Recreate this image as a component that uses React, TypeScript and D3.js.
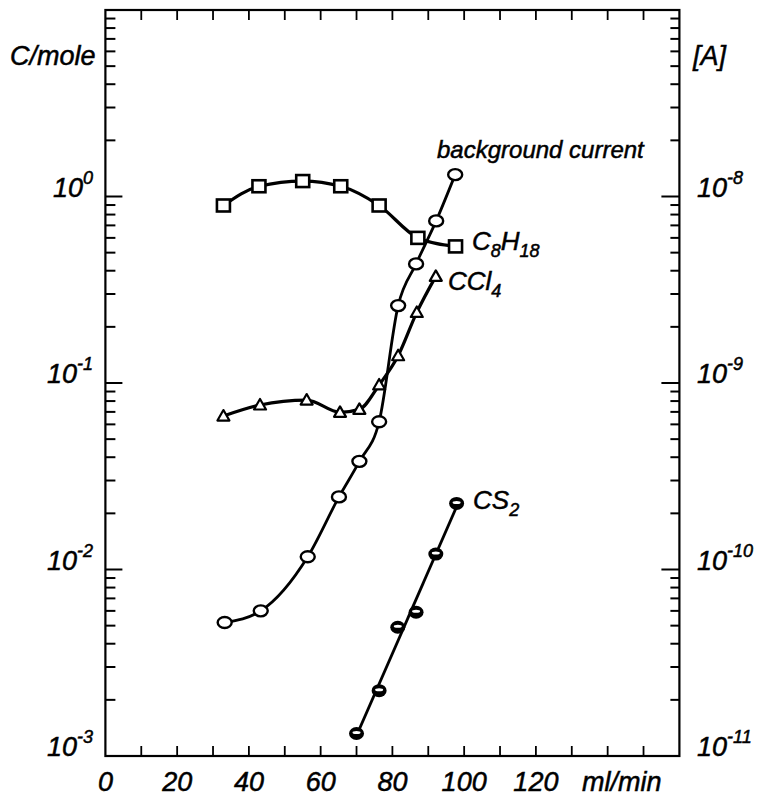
import React from "react";
import * as d3 from "d3";

// flow rate (ml/min) and response values
const bgX = [33.25, 43.3, 56.4, 65.1, 70.8, 76.3, 81.6, 86.6, 92.2, 97.5];
const bgY = [0.0052, 0.006, 0.0117, 0.0245, 0.038, 0.062, 0.26, 0.435, 0.74, 1.31];

const c8X = [32.9, 42.8, 55, 65.6, 76.3, 87.1, 97.6];
const c8Y = [0.895, 1.135, 1.21, 1.135, 0.895, 0.6, 0.54];

const cclX = [32.9, 43.1, 56.1, 65.4, 70.8, 76.3, 81.6, 86.8, 92.1];
const cclY = [0.0665, 0.0762, 0.081, 0.0696, 0.0722, 0.0976, 0.14, 0.239, 0.373];

const cs2X = [70, 76.3, 81.5, 86.6, 92.1, 97.9];
const cs2Y = [0.00132, 0.00224, 0.0049, 0.0059, 0.0121, 0.0226];

const xTickLabels = [0, 20, 40, 60, 80, 100, 120];
const leftExps = [-3, -2, -1, 0];
const rightExps = [-11, -10, -9, -8];

const W = 767;
const H = 799;
const FONT = "'Liberation Sans', Arial, sans-serif";

const App = () => {
  const x = d3.scaleLinear().domain([0, 160]).range([105.4, 679.4]);
  const y = d3.scaleLog().domain([1e-3, 10]).range([756, 10]);
  const yR = d3.scaleLog().domain([1e-11, 1e-7]).range([756, 10]);

  const zip = (xs: number[], ys: number[]) => xs.map((v, i) => [v, ys[i]] as [number, number]);
  const bg = zip(bgX, bgY);
  const c8 = zip(c8X, c8Y);
  const ccl = zip(cclX, cclY);
  const cs2 = zip(cs2X, cs2Y);

  const smooth = d3
    .line<[number, number]>()
    .x((d) => x(d[0]))
    .y((d) => y(d[1]))
    .curve(d3.curveMonotoneX);

  // CS2 is drawn as a straight fit line (log scale)
  const lx = cs2X;
  const ly = cs2Y.map((v) => Math.log10(v));
  const mx = d3.mean(lx) as number;
  const my = d3.mean(ly) as number;
  const slope =
    d3.sum(lx.map((v, i) => (v - mx) * (ly[i] - my))) / d3.sum(lx.map((v) => (v - mx) ** 2));
  const fit = (v: number) => Math.pow(10, my + slope * (v - mx));
  const x0 = cs2X[0];
  const x1 = cs2X[cs2X.length - 1];

  const xTicks = d3.range(10, 160, 10);
  const minor: { v: number; major: boolean }[] = [];
  for (let k = -3; k <= 0; k++) {
    for (let m = 1; m <= 9; m++) minor.push({ v: m * Math.pow(10, k), major: m === 1 });
  }

  const [left, right] = x.range();
  const [bottom, top] = y.range();

  return (
    <svg
      width={W}
      height={H}
      style={{ position: "absolute", left: 0, top: 0, background: "#fff" }}
      fontFamily={FONT}
      fontStyle="italic"
    >
      {/* frame */}
      <rect x={left} y={top} width={right - left} height={bottom - top} fill="none" stroke="#000" strokeWidth={2.2} />

      {/* x ticks top & bottom */}
      {xTicks.map((t) => (
        <g key={"xt" + t} stroke="#000" strokeWidth={1.8}>
          <line x1={x(t)} x2={x(t)} y1={bottom} y2={bottom - 10} />
          <line x1={x(t)} x2={x(t)} y1={top} y2={top + 10} />
        </g>
      ))}

      {/* y ticks left & right */}
      {minor.map((d, i) =>
        d.v === 1e-3 ? null : (
          <g key={"yt" + i} stroke="#000" strokeWidth={2}>
            <line x1={left} x2={left + (d.major ? 17 : 10)} y1={y(d.v)} y2={y(d.v)} />
            <line x1={right} x2={right - (d.major ? 18 : 9)} y1={y(d.v)} y2={y(d.v)} />
          </g>
        )
      )}

      <g stroke="#000" strokeWidth={0.5}>
        {/* left tick labels */}
        {leftExps.map((k) => (
          <text key={"ll" + k} x={93} y={y(Math.pow(10, k))} textAnchor="end" fontSize={27}>
            10
            <tspan dy={-13} fontSize={18}>
              {k === 0 ? "0" : String(k)}
            </tspan>
          </text>
        ))}

        {/* right tick labels */}
        {rightExps.map((k) => (
          <text key={"rl" + k} x={697} y={yR(Math.pow(10, k))} fontSize={27}>
            10
            <tspan dy={-13} fontSize={18}>
              {String(k)}
            </tspan>
          </text>
        ))}

        {/* bottom tick labels */}
        {xTickLabels.map((t) => (
          <text key={"xl" + t} x={x(t)} y={791} textAnchor="middle" fontSize={27}>
            {t}
          </text>
        ))}
        <text x={582} y={791} fontSize={27}>
          ml/min
        </text>

        {/* axis titles */}
        <text x={10} y={65} fontSize={27}>
          C/mole
        </text>
        <text x={693} y={65} fontSize={27}>
          [A]
        </text>

        {/* series labels */}
        <text x={437} y={158} fontSize={24}>
          background current
        </text>
        <text x={472} y={250} fontSize={26}>
          C
          <tspan dy={7} fontSize={18}>8</tspan>
          <tspan dy={-7}>H</tspan>
          <tspan dy={7} fontSize={18}>18</tspan>
        </text>
        <text x={448} y={290} fontSize={26}>
          CCl
          <tspan dy={7} fontSize={18}>4</tspan>
        </text>
        <text x={473} y={509} fontSize={26}>
          CS
          <tspan dy={7} fontSize={18}>2</tspan>
        </text>
      </g>

      {/* curves */}
      <g fill="none" stroke="#000" strokeWidth={3.2}>
        <path d={smooth(c8) || ""} />
        <path d={smooth(ccl) || ""} />
        <path d={smooth(bg) || ""} strokeWidth={2.8} />
        <line x1={x(x0)} y1={y(fit(x0))} x2={x(x1)} y2={y(fit(x1))} strokeWidth={2.8} />
      </g>

      {/* markers */}
      {c8.map((d, i) => (
        <rect
          key={"sq" + i}
          x={x(d[0]) - 6.5}
          y={y(d[1]) - 6}
          width={13}
          height={12}
          fill="#fff"
          stroke="#000"
          strokeWidth={2.6}
        />
      ))}
      {ccl.map((d, i) => {
        const cx = x(d[0]);
        const cy = y(d[1]);
        return (
          <path
            key={"tr" + i}
            d={`M${cx},${cy - 6}L${cx + 6},${cy + 4.5}L${cx - 6},${cy + 4.5}Z`}
            fill="#fff"
            stroke="#000"
            strokeWidth={2.2}
            strokeLinejoin="round"
          />
        );
      })}
      {bg.map((d, i) => (
        <ellipse key={"bc" + i} cx={x(d[0])} cy={y(d[1])} rx={7} ry={5.5} fill="#fff" stroke="#000" strokeWidth={2.4} />
      ))}
      {cs2.map((d, i) => (
        <g key={"cs" + i}>
          <ellipse cx={x(d[0])} cy={y(d[1])} rx={7.5} ry={6.5} fill="#000" />
          <ellipse cx={x(d[0])} cy={y(d[1]) - 1} rx={4} ry={1.5} fill="#fff" />
        </g>
      ))}
    </svg>
  );
};

export default App;
